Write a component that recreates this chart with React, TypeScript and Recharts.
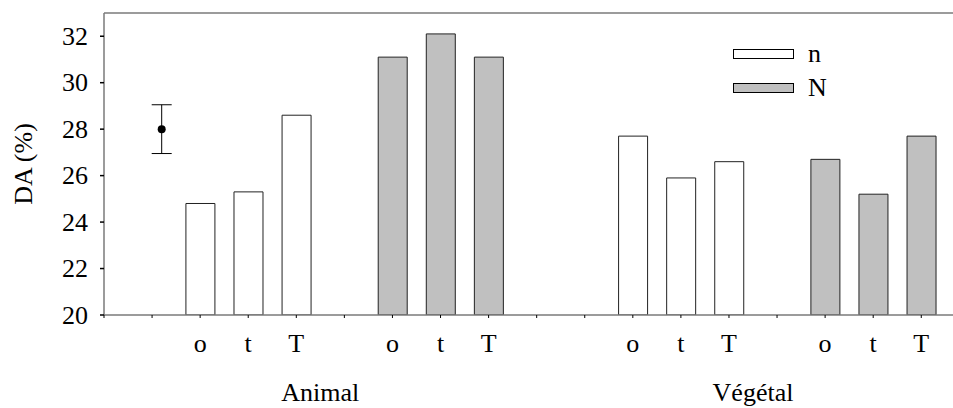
import React from 'react'
import {
  ComposedChart,
  Bar,
  Cell,
  Scatter,
  ErrorBar,
  XAxis,
  YAxis,
  ReferenceLine,
} from 'recharts'

// DA (%) per treatment, for each diet group and level
const treatments = ['o', 't', 'T']
const groups = ['Animal', 'Végétal']
const animal_n = [24.8, 25.3, 28.6]
const animal_N = [31.1, 32.1, 31.1]
const vegetal_n = [27.7, 25.9, 26.6]
const vegetal_N = [26.7, 25.2, 27.7]

// reference value shown on its own, with its error
const refMean = [28.0]
const refErr = [1.05]

const yTicks = [20, 22, 24, 26, 28, 30, 32]

const FONT = '"Liberation Serif", "Times New Roman", serif'
const FONT_SIZE = 26
const AXIS_GREY = '#7a7a7a'
const FILL_n = '#ffffff'
const FILL_N = '#c0c0c0'

// slot on the x axis where each block of three bars begins
const blocks = [
  { start: 2, values: animal_n, level: 'n' },
  { start: 6, values: animal_N, level: 'N' },
  { start: 11, values: vegetal_n, level: 'n' },
  { start: 15, values: vegetal_N, level: 'N' },
]

const rows = blocks.flatMap((b) =>
  b.values.map((v, i) => ({ pos: b.start + i, val: v, level: b.level, label: treatments[i] })),
)

const slotLabel: Record<number, string> = {}
rows.forEach((r) => (slotLabel[r.pos] = r.label))

// group names sit between the two blocks' halves
const groupPos = [blocks[0].start + 2.5, blocks[2].start + 2.5]
const groupLabel: Record<number, string> = { [groupPos[0]]: groups[0], [groupPos[1]]: groups[1] }

const refPoint = [{ pos: 1.2, val: refMean[0], err: refErr[0] }]

const slotTicks = Array.from({ length: 18 }, (_, i) => i)
const xTicks = [...slotTicks, ...groupPos].sort((a, b) => a - b)

const textStyle = { fontFamily: FONT, fontSize: FONT_SIZE, fill: '#000' }

function SlotTick({ x, y, payload }: any) {
  const v = payload.value as number
  if (groupLabel[v] !== undefined) {
    return (
      <text x={x} y={y + 86} textAnchor="middle" style={textStyle}>
        {groupLabel[v]}
      </text>
    )
  }
  return (
    <g>
      <line x1={x} y1={y} x2={x} y2={y + 3} stroke="#000" strokeWidth={1} />
      <text x={x} y={y + 37} textAnchor="middle" style={textStyle}>
        {slotLabel[v] ?? ''}
      </text>
    </g>
  )
}

function ValueTick({ x, y, payload }: any) {
  return (
    <text x={x} y={y} textAnchor="end" dominantBaseline="central" style={textStyle}>
      {payload.value}
    </text>
  )
}

function LegendBox() {
  const items = [
    { name: 'n', fill: FILL_n },
    { name: 'N', fill: FILL_N },
  ]
  return (
    <div
      style={{
        position: 'absolute',
        left: 733,
        top: 37,
        fontFamily: FONT,
        fontSize: FONT_SIZE,
      }}
    >
      {items.map((it) => (
        <div key={it.name} style={{ display: 'flex', alignItems: 'center', height: 34 }}>
          <svg width={62} height={11} style={{ display: 'block' }}>
            <rect x={0.5} y={0.5} width={60} height={9} fill={it.fill} stroke="#000" />
          </svg>
          <span style={{ marginLeft: 13, lineHeight: 1 }}>{it.name}</span>
        </div>
      ))}
    </div>
  )
}

export default function App() {
  return (
    <div style={{ position: 'fixed', left: 0, top: 0, width: 953, height: 408, background: '#fff' }}>
      <ComposedChart
        width={953}
        height={408}
        data={rows}
        margin={{ top: 13, right: 0, bottom: 0, left: 0 }}
        style={{ fontFamily: FONT }}
      >
        <XAxis
          dataKey="pos"
          type="number"
          domain={[0, 17.66]}
          allowDataOverflow
          ticks={xTicks}
          interval={0}
          height={93}
          stroke={AXIS_GREY}
          strokeWidth={1.5}
          tickLine={false}
          tickSize={0}
          tickMargin={0}
          tick={<SlotTick />}
        />
        <YAxis
          dataKey="val"
          type="number"
          domain={[20, 33]}
          allowDataOverflow
          ticks={yTicks}
          interval={0}
          width={104}
          stroke={AXIS_GREY}
          strokeWidth={1.5}
          tickSize={4}
          tickLine={{ stroke: '#000' }}
          tickMargin={12}
          tick={<ValueTick />}
          label={{
            content: ({ viewBox }: any) => {
              const cx = 23
              const cy = viewBox.y + viewBox.height / 2
              return (
                <text
                  x={cx}
                  y={cy}
                  transform={`rotate(-90, ${cx}, ${cy})`}
                  textAnchor="middle"
                  dominantBaseline="central"
                  style={textStyle}
                >
                  DA (%)
                </text>
              )
            },
          }}
        />
        <ReferenceLine y={33} stroke={AXIS_GREY} strokeWidth={1.5} />
        <Bar dataKey="val" barSize={29} stroke="#222" strokeWidth={1} isAnimationActive={false}>
          {rows.map((r) => (
            <Cell key={r.pos} fill={r.level === 'n' ? FILL_n : FILL_N} />
          ))}
        </Bar>
        <Scatter
          data={refPoint}
          dataKey="val"
          fill="#000"
          isAnimationActive={false}
          shape={(p: any) => <circle cx={p.cx} cy={p.cy} r={4} fill="#000" />}
        >
          <ErrorBar dataKey="err" direction="y" width={10} stroke="#000" strokeWidth={1} />
        </Scatter>
      </ComposedChart>
      <LegendBox />
    </div>
  )
}
